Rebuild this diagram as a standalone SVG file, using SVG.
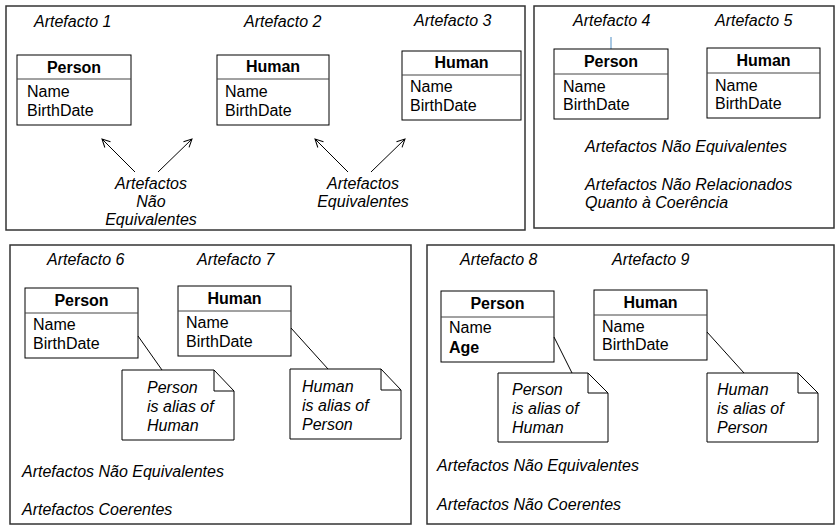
<svg xmlns="http://www.w3.org/2000/svg" width="837" height="526" viewBox="0 0 837 526">
<defs>
<style>
.panel{fill:none;stroke:#333;stroke-width:1.5}
.box{fill:#fff;stroke:#000;stroke-width:1}
.div{stroke:#444;stroke-width:1}
.t{font-family:"Liberation Sans",Arial,sans-serif;font-size:16px;fill:#000}
.b{font-weight:bold}
.i{font-style:italic}
.c{text-anchor:middle}
.ln{stroke:#000;stroke-width:1;fill:none}
.note{fill:#fff;stroke:#000;stroke-width:1}
</style>
<marker id="arr" markerWidth="10" markerHeight="10" refX="9" refY="5" orient="auto" markerUnits="userSpaceOnUse">
<path d="M1,1 L9,5 L1,9" fill="none" stroke="#000" stroke-width="1"/>
</marker>
</defs>
<rect width="837" height="526" fill="#fff"/>
<g id="panel1">
<rect class="panel" x="6" y="6" width="519" height="224"/>
<text class="t i" x="34" y="27">Artefacto 1</text>
<text class="t i" x="244" y="27">Artefacto 2</text>
<text class="t i" x="414" y="26">Artefacto 3</text>
</g>
<g id="a1-person">
<rect class="box" x="17" y="55" width="114" height="70"/>
<line class="div" x1="17" y1="79" x2="131" y2="79"/>
<text class="t b c" x="74" y="73">Person</text>
<text class="t" x="27" y="97">Name</text>
<text class="t" x="27" y="116">BirthDate</text>
</g>
<g id="a2-human">
<rect class="box" x="217" y="55" width="112" height="70"/>
<line class="div" x1="217" y1="79" x2="329" y2="79"/>
<text class="t b c" x="273" y="72">Human</text>
<text class="t" x="225" y="97">Name</text>
<text class="t" x="225" y="116">BirthDate</text>
</g>
<g id="a3-human">
<rect class="box" x="402" y="51" width="119" height="69"/>
<line class="div" x1="402" y1="75" x2="521" y2="75"/>
<text class="t b c" x="461.5" y="68">Human</text>
<text class="t" x="410" y="92">Name</text>
<text class="t" x="410" y="111">BirthDate</text>
</g>
<g id="label-nao-equiv">
<text class="t i c" x="151" y="189">Artefactos</text>
<text class="t i c" x="151" y="207">Não</text>
<text class="t i c" x="151" y="225">Equivalentes</text>
</g>
<g id="label-equiv">
<text class="t i c" x="363" y="189">Artefactos</text>
<text class="t i c" x="363" y="207">Equivalentes</text>
</g>
<g id="panel2">
<rect class="panel" x="534" y="6" width="300" height="222"/>
<text class="t i" x="573" y="26">Artefacto 4</text>
<text class="t i" x="715" y="26">Artefacto 5</text>
<line x1="611" y1="37" x2="611" y2="49" stroke="#8ab4d8" stroke-width="1.5"/>
<text class="t i" x="585" y="152">Artefactos Não Equivalentes</text>
<text class="t i" x="585" y="190">Artefactos Não Relacionados</text>
<text class="t i" x="585" y="208">Quanto à Coerência</text>
</g>
<g id="a4-person">
<rect class="box" x="554" y="49" width="114" height="70"/>
<line class="div" x1="554" y1="74" x2="668" y2="74"/>
<text class="t b c" x="611" y="67">Person</text>
<text class="t" x="563" y="92">Name</text>
<text class="t" x="563" y="110">BirthDate</text>
</g>
<g id="a5-human">
<rect class="box" x="707" y="48" width="113" height="70"/>
<line class="div" x1="707" y1="73" x2="820" y2="73"/>
<text class="t b c" x="763.5" y="66">Human</text>
<text class="t" x="715" y="91">Name</text>
<text class="t" x="715" y="109">BirthDate</text>
</g>
<g id="panel3">
<rect class="panel" x="10" y="245" width="401" height="279"/>
<text class="t i" x="47" y="265">Artefacto 6</text>
<text class="t i" x="197" y="265">Artefacto 7</text>
<text class="t i" x="22" y="477">Artefactos Não Equivalentes</text>
<text class="t i" x="22" y="515">Artefactos Coerentes</text>
</g>
<g id="a6-person">
<rect class="box" x="25" y="288" width="113" height="70"/>
<line class="div" x1="25" y1="313" x2="138" y2="313"/>
<text class="t b c" x="81.5" y="306">Person</text>
<text class="t" x="33" y="330">Name</text>
<text class="t" x="33" y="349">BirthDate</text>
</g>
<g id="a7-human">
<rect class="box" x="178" y="286" width="113" height="70"/>
<line class="div" x1="178" y1="311" x2="291" y2="311"/>
<text class="t b c" x="234.5" y="304">Human</text>
<text class="t" x="186" y="328">Name</text>
<text class="t" x="186" y="347">BirthDate</text>
</g>
<g id="note6">
<path class="note" d="M122,370 H214 L234,391 V440 H122 Z"/>
<path class="ln" d="M214,370 V391 H234"/>
<text class="t i" x="147" y="393">Person</text>
<text class="t i" x="147" y="412">is alias of</text>
<text class="t i" x="147" y="431">Human</text>
</g>
<g id="note7">
<path class="note" d="M290,369 H381 L401,390 V439 H290 Z"/>
<path class="ln" d="M381,369 V390 H401"/>
<text class="t i" x="302" y="392">Human</text>
<text class="t i" x="302" y="411">is alias of</text>
<text class="t i" x="302" y="430">Person</text>
</g>
<g id="panel4">
<rect class="panel" x="427" y="245" width="407" height="279"/>
<text class="t i" x="460" y="265">Artefacto 8</text>
<text class="t i" x="612" y="265">Artefacto 9</text>
<text class="t i" x="437" y="471">Artefactos Não Equivalentes</text>
<text class="t i" x="437" y="510">Artefactos Não Coerentes</text>
</g>
<g id="a8-person">
<rect class="box" x="441" y="291" width="113" height="71"/>
<line class="div" x1="441" y1="317" x2="554" y2="317"/>
<text class="t b c" x="497.5" y="309">Person</text>
<text class="t" x="449" y="333">Name</text>
<text class="t b" x="449" y="353">Age</text>
</g>
<g id="a9-human">
<rect class="box" x="594" y="290" width="113" height="70"/>
<line class="div" x1="594" y1="315" x2="707" y2="315"/>
<text class="t b c" x="650.5" y="308">Human</text>
<text class="t" x="602" y="332">Name</text>
<text class="t" x="602" y="350">BirthDate</text>
</g>
<g id="note8">
<path class="note" d="M498,373 H588 L608,393 V442 H498 Z"/>
<path class="ln" d="M588,373 V393 H608"/>
<text class="t i" x="512" y="395">Person</text>
<text class="t i" x="512" y="414">is alias of</text>
<text class="t i" x="512" y="433">Human</text>
</g>
<g id="note9">
<path class="note" d="M707,373 H798 L818,393 V442 H707 Z"/>
<path class="ln" d="M798,373 V393 H818"/>
<text class="t i" x="717" y="395">Human</text>
<text class="t i" x="717" y="414">is alias of</text>
<text class="t i" x="717" y="433">Person</text>
</g>
<g id="connectors">
<line class="ln" x1="135" y1="172" x2="102" y2="139" marker-end="url(#arr)"/>
<line class="ln" x1="158" y1="172" x2="192" y2="139" marker-end="url(#arr)"/>
<line class="ln" x1="348" y1="172" x2="315" y2="139" marker-end="url(#arr)"/>
<line class="ln" x1="371" y1="172" x2="405" y2="139" marker-end="url(#arr)"/>
<line class="ln" x1="138" y1="336" x2="162" y2="370"/>
<line class="ln" x1="291" y1="328" x2="328" y2="369"/>
<line class="ln" x1="554" y1="337" x2="572" y2="373"/>
<line class="ln" x1="707" y1="332" x2="744" y2="373"/>
</g>
</svg>
